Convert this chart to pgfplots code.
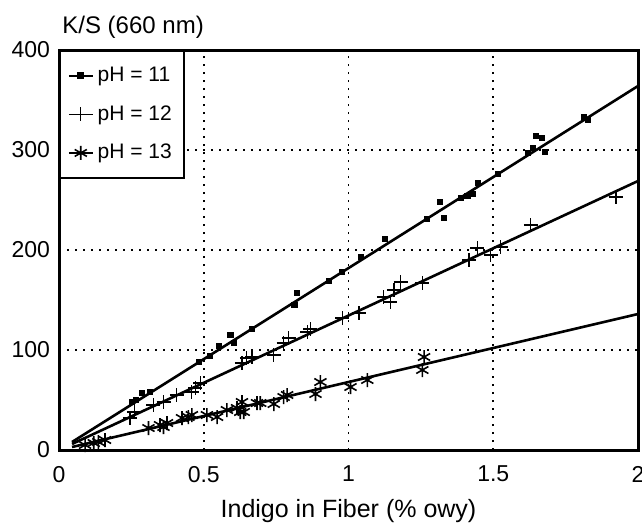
\documentclass[border=0pt]{standalone}
\usepackage{fontspec}
\setmainfont{Liberation Sans}
\usepackage{pgfplots}
\pgfplotsset{compat=1.18}

\begin{document}
\begin{tikzpicture}
\begin{axis}[
    name=ax,
    scale only axis, width=289.5pt, height=200pt,
    xmin=0, xmax=2, ymin=0, ymax=400,
    xtick={0,0.5,1,1.5,2}, ytick={0,100,200,300,400},
    major tick length=0,
    grid=major,
    grid style={black, line width=0.9pt, dash pattern=on 0.9pt off 3.1pt},
    axis line style={black, line width=1.5pt},
    tick label style={font=\fontsize{11.5}{13}\selectfont},
    /pgf/number format/assume math mode=true,
    xticklabel style={yshift=-4.5pt},
    yticklabel style={xshift=-1pt},
    xlabel={Indigo in Fiber (\% owy)},
    xlabel style={font=\fontsize{12.5}{14}\selectfont, at={(axis description cs:0.5,0)}, anchor=base, yshift=-33.5pt},
    legend style={at={(0,1)}, anchor=north west, draw=black, line width=1pt,
        font=\fontsize{10.5}{12.5}\selectfont, row sep=6.5pt, inner xsep=4pt, inner ysep=6pt},
    legend cell align=left,
    legend image code/.code={\draw[mark repeat=2,mark phase=2,#1] plot coordinates {(0pt,0pt)(6pt,0pt)(12pt,0pt)};},
]
% fitted lines
\addplot[black, line width=1.3pt, forget plot] coordinates {(0.045,8) (2,364)};
\addplot[black, line width=1.3pt, forget plot] coordinates {(0.045,6) (2,269)};
\addplot[black, line width=1.3pt, forget plot] coordinates {(0.045,3) (2,136)};

% pH = 11
\addplot[only marks, mark=square*, mark size=1.3pt, black, forget plot] coordinates {
(0.251,48) (0.266,50) (0.286,57) (0.315,58) (0.482,88) (0.522,94) (0.551,104)
(0.592,115) (0.603,107) (0.665,121) (0.813,145) (0.822,157) (0.932,169) (0.978,178)
(1.044,193) (1.125,211) (1.272,231) (1.316,248) (1.330,232) (1.388,252) (1.411,254)
(1.428,256) (1.447,267) (1.516,276) (1.620,297) (1.638,302) (1.647,314) (1.667,312)
(1.679,298) (1.812,333) (1.828,330)};

% pH = 12
\addplot[only marks, mark=+, mark size=3.5pt, black, line width=0.6pt, forget plot] coordinates {
(0.245,32) (0.260,38) (0.326,45) (0.361,48) (0.407,55) (0.459,58) (0.471,62)
(0.488,67) (0.632,87) (0.649,92) (0.667,93) (0.742,95) (0.776,107) (0.793,112)
(0.857,118) (0.868,121) (0.978,132) (1.036,137) (1.122,153) (1.145,148) (1.157,160)
(1.180,168) (1.255,167) (1.416,190) (1.445,202) (1.491,195) (1.526,203) (1.630,225)
(1.924,253)};

% pH = 13
\addplot[only marks, mark=asterisk, mark size=3.5pt, black, line width=0.8pt, forget plot] coordinates {
(0.090,5) (0.120,7) (0.136,8) (0.159,10) (0.309,22) (0.349,25) (0.361,23) (0.373,27)
(0.425,32) (0.447,33) (0.459,35) (0.511,35) (0.546,33) (0.580,40) (0.615,42)
(0.626,38) (0.632,48) (0.638,38) (0.684,47) (0.695,47) (0.742,46) (0.776,53)
(0.788,55) (0.886,56) (0.903,68) (1.007,63) (1.065,70) (1.255,80) (1.261,93)};

\addlegendimage{black, line width=0.8pt, mark=square*, mark size=1.3pt}
\addlegendentry{pH = 11}
\addlegendimage{black, line width=0.6pt, mark=+, mark size=3.5pt}
\addlegendentry{pH = 12}
\addlegendimage{black, line width=0.8pt, mark=asterisk, mark size=3.5pt}
\addlegendentry{pH = 13}
\end{axis}
\node[anchor=base west, inner sep=0pt, font=\fontsize{12}{14}\selectfont] at ([xshift=1.5pt,yshift=8.5pt]ax.north west) {K/S (660 nm)};
\pgfresetboundingbox
\path[use as bounding box] ([xshift=-29.5pt,yshift=-38.5pt]ax.south west) rectangle ([xshift=2pt,yshift=25pt]ax.north east);
\end{tikzpicture}
\end{document}
